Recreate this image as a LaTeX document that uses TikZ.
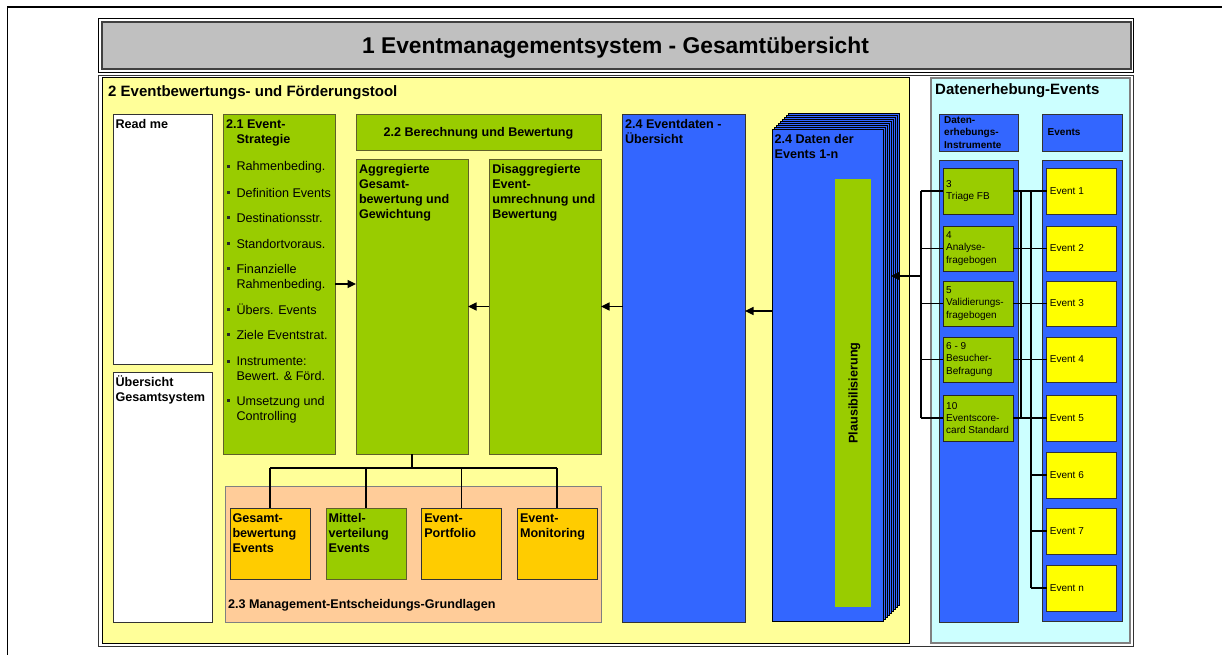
\documentclass[tikz,border=0pt]{standalone}
\usepackage{fontspec}
\setmainfont{Liberation Sans}
\usetikzlibrary{arrows.meta}
\definecolor{cgray}{HTML}{C0C0C0}
\definecolor{cyel}{HTML}{FFFF99}
\definecolor{ccyan}{HTML}{CCFFFF}
\definecolor{cgreen}{HTML}{99CC00}
\definecolor{cblue}{HTML}{3366FF}
\definecolor{cpeach}{HTML}{FFCC99}
\definecolor{cgold}{HTML}{FFCC00}
\definecolor{cyellow}{HTML}{FFFF00}
\definecolor{cedge}{HTML}{333333}
\definecolor{cgedge}{HTML}{5F5F2A}
\newcommand\firstln{\rule{0pt}{10pt}}
\begin{document}
\begin{tikzpicture}[x=1pt,y=-1pt,
  sz/.style 2 args={minimum width=#1pt, minimum height=#2pt},
  box/.style={draw=cedge, line width=0.8pt, rectangle, inner sep=0pt, outer sep=0pt, anchor=north west},
  gbox/.style={box, fill=cgreen, draw=cgedge},
  bbox/.style={box, fill=cblue},
  obox/.style={box, fill=cgold, draw=cedge},
  ybox/.style={box, fill=cyellow, draw=cedge},
  wbox/.style={box, fill=white, draw=cedge},
  txt/.style={anchor=north west, inner sep=0pt, outer sep=0pt, align=left, font=\fontsize{12.6}{15.1}\selectfont},
  btxt/.style={txt, font=\fontsize{12.6}{15.1}\selectfont\bfseries},
  stxt/.style={anchor=west, inner sep=0pt, align=left, font=\fontsize{10}{12.3}\selectfont},
  sbtxt/.style={stxt, font=\fontsize{10}{12.2}\selectfont\bfseries},
  conn/.style={draw=black, line width=1.1pt},
  arr/.style={conn, -{Triangle[length=8.5pt,width=8pt]}},
]
\useasboundingbox (0,0) rectangle (1222,655);
\fill[white] (0,0) rectangle (1222,655);

% page frame
\draw[line width=1.8pt] (7.5,660) -- (7.5,7) -- (1230,7);

% title bar
\node[box, fill=white, draw=black, sz={1035}{54}] (titleout) at (98,18) {};
\node[box, fill=cgray, draw=black!75, line width=1.2pt, sz={1029}{47}] (titlein) at (102,22) {};
\node[anchor=base, inner sep=0pt, font=\fontsize{22.8}{27}\selectfont\bfseries] (title) at (615.5,53.2) {1 Eventmanagementsystem - Gesamtübersicht};

% lower frame with the two panels
\node[box, fill=white, draw=black!80, sz={1035}{571}] (frame) at (98,75) {};
\node[box, fill=cyel, draw=black, line width=1pt, sz={807}{565}] (tool) at (102,78) {};
\node[box, fill=ccyan, draw=black!50, line width=1.5pt, sz={199}{565}] (survey) at (931,78) {};
\node[anchor=base west, inner sep=0pt, font=\fontsize{15}{17}\selectfont\bfseries] (toolhead) at (108,97) {2 Eventbewertungs- und Förderungstool};
\node[anchor=base west, inner sep=0pt, font=\fontsize{15}{17}\selectfont\bfseries] (surveyhead) at (935,95) {Datenerhebung-Events};

% left column
\node[wbox, sz={99}{250}] (readme) at (113,114) {};
\node[btxt] (readmet) at (115.5,118.3) {\firstln Read me};
\node[wbox, sz={99}{250}] (overview) at (113,372) {};
\node[btxt] (overviewt) at (115.5,375.7) {\firstln Übersicht\\Gesamtsystem};

% 2.1 strategy
\node[gbox, sz={112}{340}] (strat) at (223,114) {};
\node[btxt] (stratt) at (226,118.3) {\firstln 2.1 Event-\\\hspace*{10.5pt}Strategie};
\node[txt] (s1) at (236.5,161) {\firstln Rahmenbeding.};
\node[txt] (s2) at (236.5,187.3) {\firstln Definition Events};
\node[txt] (s3) at (236.5,212.3) {\firstln Destinationsstr.};
\node[txt] (s4) at (236.5,238.3) {\firstln Standortvoraus.};
\node[txt] (s5) at (236.5,263) {\firstln Finanzielle\\Rahmenbeding.};
\node[txt] (s6) at (236.5,304.3) {\firstln Übers. Events};
\node[txt] (s7) at (236.5,329.3) {\firstln Ziele Eventstrat.};
\node[txt] (s8) at (236.5,355.5) {\firstln Instrumente:\\Bewert. \& Förd.};
\node[txt] (s9) at (236.5,395.3) {\firstln Umsetzung und\\Controlling};
\foreach \c in {166.5,192.8,217.8,243.8,268.5,309.8,334.8,361,400.8}
  \fill[black!85] (227.2,\c-1.5) rectangle ++(3,3);

% 2.2 calculation
\node[gbox, sz={245}{36}] (calc) at (356,114) {};
\node[anchor=base, inner sep=0pt, font=\fontsize{12.6}{15}\selectfont\bfseries] (calct) at (478.5,136.5) {2.2 Berechnung und Bewertung};
\node[gbox, sz={112}{295}] (agg) at (356,159) {};
\node[btxt] (aggt) at (359,163.3) {\firstln Aggregierte\\Gesamt-\\bewertung und\\Gewichtung};
\node[gbox, sz={112}{295}] (disagg) at (489,159) {};
\node[btxt] (disaggt) at (492.3,163.3) {\firstln Disaggregierte\\Event-\\umrechnung und\\Bewertung};

% 2.3 management basics
\node[box, fill=cpeach, draw=black!50, sz={376}{136}] (mgmt) at (225,486) {};
\node[anchor=base west, inner sep=0pt, font=\fontsize{12.6}{15}\selectfont\bfseries] (mgmtt) at (228,608.7) {2.3 Management-Entscheidungs-Grundlagen};
\node[obox, sz={80}{71}] (m1) at (230,508) {};
\node[btxt] (m1t) at (232.5,512.3) {\firstln Gesamt-\\bewertung\\Events};
\node[gbox, sz={80}{71}] (m2) at (326,508) {};
\node[btxt] (m2t) at (328.6,512.3) {\firstln Mittel-\\verteilung\\Events};
\node[obox, sz={80}{71}] (m3) at (421.5,508) {};
\node[btxt] (m3t) at (424.3,512.3) {\firstln Event-\\Portfolio};
\node[obox, sz={80}{71}] (m4) at (517,508) {};
\node[btxt] (m4t) at (520,512.3) {\firstln Event-\\Monitoring};

% 2.4 event data
\node[bbox, sz={122.5}{508}] (evd) at (622.5,114) {};
\node[btxt] (evdt) at (625,118.7) {\firstln 2.4 Eventdaten -\\Übersicht};
\foreach \k in {8,7,...,0}
  \node[bbox, draw=black, line width=0.7pt, sz={111}{492}] (pg\k) at ({772+2*\k},{129-2*\k}) {};
\node[btxt] (pgt) at (774.6,133.7) {\firstln 2.4 Daten der\\Events 1-n};
\node[box, draw=none, fill=cgreen, sz={36}{428}] (plaus) at (835,179) {};
\node[rotate=90, anchor=base, inner sep=0pt, font=\fontsize{12.6}{15}\selectfont\bfseries] (plaust) at (857.5,393) {Plausibilisierung};

% survey instruments and events
\node[bbox, sz={79}{37}] (ih) at (939,114) {};
\node[sbtxt] (iht) at ([xshift=5pt]ih.west) {Daten-\\erhebungs-\\Instrumente};
\node[bbox, sz={80}{37}] (eh) at (1042,114) {};
\node[sbtxt] (eht) at ([xshift=5.5pt]eh.west) {Events};
\node[bbox, sz={79}{462}] (icol) at (939,160) {};
\node[bbox, sz={80}{461}] (ecol) at (1042,160) {};

\node[gbox, draw=black!85, sz={70}{46}] (i3) at (943,168) {};
\node[gbox, draw=black!85, sz={70}{45}] (i4) at (943,226) {};
\node[gbox, draw=black!85, sz={70}{45}] (i5) at (943,281) {};
\node[gbox, draw=black!85, sz={70}{45}] (i69) at (943,337) {};
\node[gbox, draw=black!85, sz={70}{46}] (i10) at (943,395) {};
\node[stxt] at ([xshift=3pt]i3.west) {3\\Triage FB};
\node[stxt] at ([xshift=3pt]i4.west) {4\\Analyse-\\fragebogen};
\node[stxt] at ([xshift=3pt]i5.west) {5\\Validierungs-\\fragebogen};
\node[stxt] at ([xshift=3pt]i69.west) {6 - 9\\Besucher-\\Befragung};
\node[stxt] at ([xshift=3pt]i10.west) {10\\Eventscore-\\card Standard};

\node[ybox, sz={70}{46}] (e1) at (1046.7,168) {};
\node[ybox, sz={70}{45}] (e2) at (1046.7,226) {};
\node[ybox, sz={70}{45}] (e3) at (1046.7,281) {};
\node[ybox, sz={70}{45}] (e4) at (1046.7,337) {};
\node[ybox, sz={70}{46}] (e5) at (1046.7,395) {};
\node[ybox, sz={70}{46}] (e6) at (1046.7,452) {};
\node[ybox, sz={70}{46}] (e7) at (1046.7,508) {};
\node[ybox, sz={70}{46}] (en) at (1046.7,565) {};
\foreach \n/\l in {e1/1,e2/2,e3/3,e4/4,e5/5,e6/6,e7/7,en/n}
  \node[stxt] at ([xshift=3pt]\n.west) {Event \l};

% connectors
\coordinate (lbus) at (921,0);
\coordinate (rbusA) at (1021,0);
\coordinate (rbusB) at (1031,0);
\coordinate (arry) at (0,276);
\coordinate (pgy) at (0,311);
\coordinate (tj) at (0,468);

\draw[arr] (strat.east) -- (strat.east -| agg.west);
\draw[arr] (disagg.west) -- (agg.east);
\draw[arr] (disagg.east -| evd.west) -- (disagg.east);
\draw[arr] (pg0.west |- pgy) -- (evd.east |- pgy);

\draw[conn] (agg.south) -- (agg.south |- tj);
\draw[conn] (m1.north |- tj) -- (m4.north |- tj);
\foreach \n in {m1,m2,m3,m4} \draw[conn] (\n.north |- tj) -- (\n.north);

\draw[conn] (i3.west -| lbus) -- (i10.west -| lbus);
\foreach \n in {i3,i4,i5,i69,i10} \draw[conn] (\n.west) -- (\n.west -| lbus);
\draw[arr] (lbus |- arry) -- (pg4.east |- arry);

\draw[conn] (i3.east -| rbusA) -- (i10.east -| rbusA);
\draw[conn] (e1.west -| rbusB) -- (en.west -| rbusB);
\foreach \a/\b in {i3/e1,i4/e2,i5/e3,i69/e4,i10/e5} \draw[conn] (\a.east) -- (\b.west);
\foreach \n in {e6,e7,en} \draw[conn] (\n.west -| rbusB) -- (\n.west);
\end{tikzpicture}
\end{document}
